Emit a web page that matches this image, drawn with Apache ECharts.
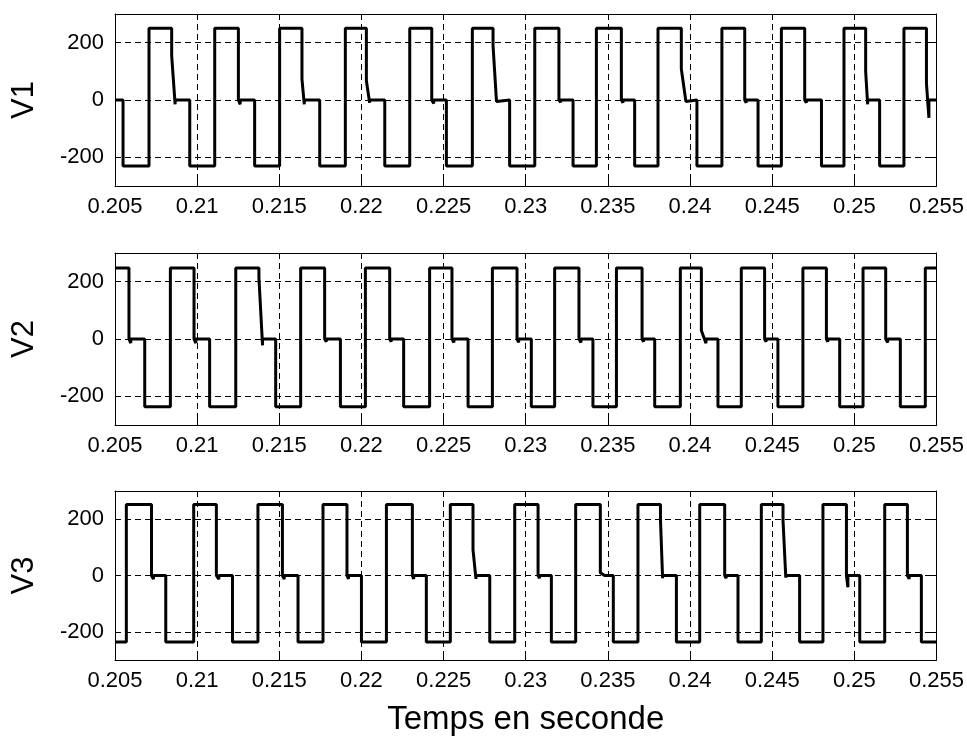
<!DOCTYPE html>
<html>
<head>
<meta charset="utf-8">
<title>V1 V2 V3</title>
<script src="https://cdn.jsdelivr.net/npm/echarts@6/dist/echarts.min.js"></script>
<style>
  html, body { margin: 0; padding: 0; background: #fff; }
  #chart { width: 967px; height: 737px; }
</style>
</head>
<body>
<div id="chart"></div>
<script>
// time window (s)
var tMin = 0.205;
var tMax = 0.255;
var yTicks = [-200, 0, 200];

// V1 : one entry per cycle -> rise to top, top ends (fall), knee level, time it reaches 0 (with small dip), drop to bottom
var v1Rise = [null, 0.20707, 0.21107, 0.21502, 0.21902, 0.22294, 0.22675, 0.23055, 0.23430, 0.23805, 0.24194, 0.24556, 0.24937, 0.25302];
var v1Fall = [null, 0.20845, 0.21251, 0.21638, 0.22030, 0.22428, 0.22801, 0.23202, 0.23582, 0.23947, 0.24333, 0.24698, 0.25069, 0.25439];
var v1Knee = [null, 154, 0, 73, 67, 0, 190, 0, 0, 108, 0, 0, 100, 58];
var v1Zero = [null, 0.20866, 0.21262, 0.21652, 0.22050, 0.22440, 0.22822, 0.23213, 0.23592, 0.23975, 0.24342, 0.24708, 0.25081, 0.25454];
var v1Dip = [null, -15, -15, -15, -10, -12, -5, -8, -10, -5, -10, -10, -15, -62];
var v1Neg = [0.20549, 0.20955, 0.21350, 0.21746, 0.22142, 0.22517, 0.22902, 0.23288, 0.23663, 0.24042, 0.24414, 0.24800, 0.25154, null];

// V2
var v2Rise = [null, 0.20837, 0.21235, 0.21630, 0.22024, 0.22415, 0.22797, 0.23176, 0.23552, 0.23941, 0.24312, 0.24687, 0.25053, 0.25432];
var v2Fall = [0.20585, 0.20981, 0.21376, 0.21776, 0.22172, 0.22551, 0.22947, 0.23324, 0.23708, 0.24069, 0.24454, 0.24830, 0.25191, null];
var v2Knee = [0, 0, 214, 0, 0, 0, 0, 0, 0, 30, 0, 0, 0, null];
var v2Zero = [0.20596, 0.20992, 0.21398, 0.21786, 0.22181, 0.22563, 0.22957, 0.23336, 0.23717, 0.24097, 0.24463, 0.24839, 0.25203, null];
var v2Dip = [-14, -14, -22, -10, -10, -12, -12, -12, -10, -15, -10, -10, -12, null];
var v2Neg = [0.20681, 0.21076, 0.21478, 0.21872, 0.22257, 0.22649, 0.23034, 0.23409, 0.23785, 0.24170, 0.24535, 0.24911, 0.25280, null];

// V3
var v3Rise = [0.20569, 0.20979, 0.21370, 0.21766, 0.22152, 0.22541, 0.22933, 0.23304, 0.23683, 0.24059, 0.24434, 0.24809, 0.25185];
var v3Fall = [0.20722, 0.21117, 0.21519, 0.21912, 0.22310, 0.22679, 0.23075, 0.23454, 0.23820, 0.24211, 0.24566, 0.24952, 0.25323];
var v3Knee = [0, 0, 0, 0, 0, 92, 0, 10, 200, 0, 195, 0, 0];
var v3Zero = [0.20734, 0.21132, 0.21530, 0.21921, 0.22318, 0.22697, 0.23084, 0.23480, 0.23833, 0.24220, 0.24583, 0.24961, 0.25334];
var v3Dip = [-13, -13, -13, -12, -12, -12, -10, 0, -10, -10, -8, -42, -12];
var v3Neg = [0.20809, 0.21215, 0.21614, 0.22000, 0.22395, 0.22781, 0.23156, 0.23533, 0.23917, 0.24292, 0.24667, 0.25033, 0.25408];

// plateau levels [top, bottom] and value at the window start / end
var v1Levels = [250, -230];
var v2Levels = [248, -236];
var v3Levels = [252, -236];
var v1Ends = [0, 0];
var v2Ends = [248, 248];
var v3Ends = [-236, -236];

function buildWave(rise, fall, knee, zero, dip, neg, levels, ends) {
	var top = levels[0], bot = levels[1];
	var pts = [[tMin, ends[0]]];
	for (var i = 0; i < neg.length; i++) {
		if (rise[i] !== null) {
			pts.push([rise[i], bot], [rise[i], top]);
		}
		if (fall[i] !== null) {
			pts.push([fall[i], top], [fall[i], knee[i]], [zero[i], dip[i]], [zero[i], 0]);
		}
		if (neg[i] !== null) {
			pts.push([neg[i], 0], [neg[i], bot]);
		}
	}
	pts.push([tMax, ends[1]]);
	return pts;
}

var waves = [
	buildWave(v1Rise, v1Fall, v1Knee, v1Zero, v1Dip, v1Neg, v1Levels, v1Ends),
	buildWave(v2Rise, v2Fall, v2Knee, v2Zero, v2Dip, v2Neg, v2Levels, v2Ends),
	buildWave(v3Rise, v3Fall, v3Knee, v3Zero, v3Dip, v3Neg, v3Levels, v3Ends)
];
var names = ["V1", "V2", "V3"];
var gridTops = [14, 253, 491];

var font = "Liberation Sans, Arial, sans-serif";
var dashed = { color: "#000", width: 1, type: [6, 4] };
var boxLine = { show: true, onZero: false, lineStyle: { color: "#000", width: 1 } };
var tickIn = { show: true, inside: true, length: 6, lineStyle: { color: "#000", width: 1 } };

var grid = [], xAxis = [], yAxis = [], series = [];
for (var k = 0; k < 3; k++) {
	grid.push({ left: 115, width: 822, top: gridTops[k], height: 172 });
	// bottom x axis
	xAxis.push({
		type: "value", gridIndex: k, min: tMin, max: tMax, interval: 0.005,
		axisLine: boxLine, axisTick: tickIn,
		axisLabel: { color: "#000", fontFamily: font, fontSize: 22, margin: 10 },
		splitLine: { show: true, lineStyle: dashed },
		name: k === 2 ? "Temps en seconde" : "",
		nameLocation: "middle", nameGap: 43,
		nameTextStyle: { color: "#000", fontFamily: font, fontSize: 33 }
	});
	// top x axis (box + inner ticks)
	xAxis.push({
		type: "value", gridIndex: k, position: "top", min: tMin, max: tMax, interval: 0.005,
		axisLine: boxLine, axisTick: tickIn,
		axisLabel: { show: false }, splitLine: { show: false }
	});
	yAxis.push({
		type: "value", gridIndex: k, min: -300, max: 300,
		axisLine: boxLine,
		axisTick: { show: true, inside: true, length: 6, customValues: yTicks, lineStyle: { color: "#000", width: 1 } },
		axisLabel: { color: "#000", fontFamily: font, fontSize: 22, margin: 11, customValues: yTicks },
		splitLine: { show: true, lineStyle: dashed },
		name: names[k], nameLocation: "middle", nameGap: 75,
		nameTextStyle: { color: "#000", fontFamily: font, fontSize: 31 }
	});
	yAxis.push({
		type: "value", gridIndex: k, position: "right", min: -300, max: 300,
		axisLine: boxLine,
		axisTick: { show: true, inside: true, length: 6, customValues: yTicks, lineStyle: { color: "#000", width: 1 } },
		axisLabel: { show: false, customValues: yTicks }, splitLine: { show: false }
	});
	series.push({
		name: names[k], type: "line", xAxisIndex: k * 2, yAxisIndex: k * 2,
		data: waves[k], showSymbol: false, symbol: "none", clip: true,
		lineStyle: { color: "#000", width: 3 }
	});
}

var chart = echarts.init(document.getElementById("chart"), null, { renderer: "canvas" });
chart.setOption({
	animation: false,
	backgroundColor: "#fff",
	grid: grid,
	xAxis: xAxis,
	yAxis: yAxis,
	series: series
});
</script>
</body>
</html>
